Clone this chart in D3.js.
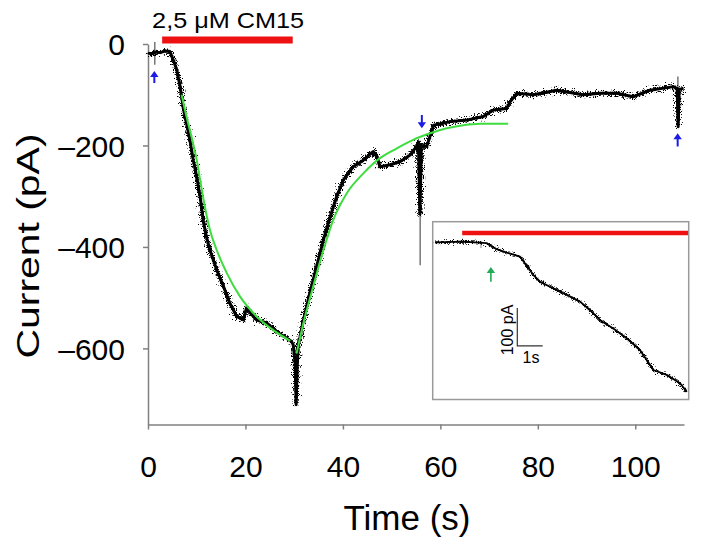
<!DOCTYPE html>
<html><head><meta charset="utf-8">
<script src="https://cdn.jsdelivr.net/npm/d3@7"></script>
<style>
body{margin:0;background:#fff}
svg{display:block}
text{font-family:"Liberation Sans",Arial,Helvetica,sans-serif;fill:#000}
</style>
</head><body>
<svg id="chart" width="702" height="547"></svg>
<script>
// ---------- data ----------
const xTicks = [0, 20, 40, 60, 80, 100];
const yTicks = [0, -200, -400, -600];
const xLabel = "Time (s)";
const yLabel = "Current (pA)";

// main current trace (s, pA)
const traceT = [0.0,0.8,1.5,2.5,3.5,4.5,5.2,5.9,6.6,7.2,7.9,8.6,9.3,10.0,10.7,11.4,12.0,12.7,14.1,15.5,16.8,18.2,19.6,20.2,21.0,22.3,24.4,26.4,28.5,29.5,29.8,30.2,30.4,30.6,30.8,31.9,33.2,34.6,36.0,37.4,38.7,40.1,42.1,44.2,46.2,46.9,47.6,49.7,51.7,53.8,55.1,55.5,55.8,56.1,57.2,58.6,62.0,65.4,68.8,70.9,73.6,74.3,75.7,79.1,83.9,89.3,92.8,96.2,99.6,103.0,107.8,108.6,108.8,109.0,109.9];
const traceI = [-18,-19,-16,-17,-14,-15,-32,-51,-84,-124,-156,-189,-229,-262,-301,-352,-380,-406,-445,-478,-511,-537,-544,-520,-530,-544,-550,-567,-580,-587,-593,-629,-711,-642,-597,-544,-491,-439,-386,-340,-301,-268,-242,-229,-212,-219,-242,-238,-232,-219,-202,-193,-335,-200,-202,-160,-153,-150,-143,-130,-127,-114,-97,-100,-91,-100,-97,-97,-104,-91,-84,-88,-163,-90,-87];

// exponential fits (green)
const fitDecayT = [6.9,7.9,8.6,10.0,10.7,11.4,12.7,14.1,16.2,18.9,22.3,25.7,29.2];
const fitDecayI = [-100,-143,-170,-229,-268,-307,-366,-406,-452,-498,-537,-564,-585];
const fitRecT = [30.5,31.9,33.9,36.0,38.0,40.8,44.2,47.6,51.0,54.4,57.9,61.3,64.7,68.1,73.9];
const fitRecI = [-610,-550,-478,-406,-347,-294,-255,-225,-206,-189,-176,-166,-160,-157,-157];

// thin artifacts (s, top pA, bottom pA)
const artifactT = [1.4, 55.85, 108.75];
const artifactTop = [4, -330, -64];
const artifactBottom = [-41, -436, -165];

// blue arrows (s, tail pA, tip pA)
const arrowT = [1.3, 56.2, 108.7];
const arrowTail = [-77, -140, -202];
const arrowTip = [-53, -166, -176];

// drug application bar
const drugLabel = "2,5 \u03BCM CM15";
const drugStart = 2.9, drugEnd = 29.7, drugLevel = 8;

// inset trace (s, pA relative)
const insetT = [0,1.11,2.03,2.43,2.82,3.35,3.87,4.13,4.66,5.19,5.71,6.10,6.50,7.02,7.55,8.07,8.60,9.12,9.65,9.91];
const insetI = [-1,1,-3,-19,-28,-39,-87,-105,-123,-140,-158,-180,-207,-229,-255,-286,-339,-352,-374,-397];
const insetBarStart = 1.07, insetBarEnd = 9.96, insetBarLevel = 24;
const insetArrowT = 2.2, insetArrowTail = -105, insetArrowTip = -66;
const insetSpikeT = 1.81, insetSpikeTop = 3, insetSpikeBottom = -16;
const scaleBarT = 3.24, scaleBarTop = -175, scaleBarPA = 100, scaleBarS = 1;
const scaleBarPALabel = "100 pA", scaleBarSLabel = "1s";

// ---------- drawing ----------
const svg = d3.select("#chart");
svg.append("rect").attr("width",702).attr("height",547).attr("fill","#fff");

const defs = svg.append("defs");
function noiseFilter(id, freq, scale, seed){
  const f = defs.append("filter").attr("id",id).attr("filterUnits","userSpaceOnUse")
    .attr("x",0).attr("y",0).attr("width",702).attr("height",547);
  f.append("feTurbulence").attr("type","fractalNoise").attr("baseFrequency",freq).attr("numOctaves",1).attr("seed",seed).attr("result","t");
  f.append("feDisplacementMap").attr("in","SourceGraphic").attr("in2","t").attr("scale",scale).attr("xChannelSelector","R").attr("yChannelSelector","G");
}
noiseFilter("noise", "0.9", 16, 4);
noiseFilter("noise2", "1.1", 10, 7);

const x = d3.scaleLinear().domain([0,110]).range([148,684]);
const y = d3.scaleLinear().domain([-750,0]).range([424.5,44]);

const axisColor = "#808080";
const gx = svg.append("g").attr("transform",`translate(0,${y(-750)})`)
  .call(d3.axisBottom(x).tickValues(xTicks).tickSize(5).tickSizeOuter(0).tickPadding(26));
const gy = svg.append("g").attr("transform",`translate(${x(0)},0)`)
  .call(d3.axisLeft(y).tickValues(yTicks).tickSize(5).tickSizeOuter(0).tickPadding(18)
    .tickFormat(d => d < 0 ? "\u2013" + Math.abs(d) : String(d)));
[gx,gy].forEach(g=>{
  g.select(".domain").attr("stroke",axisColor).attr("stroke-width",1.5);
  g.selectAll(".tick line").attr("stroke",axisColor).attr("stroke-width",1.5);
  g.selectAll(".tick text").attr("font-size",30).attr("fill","#000")
    .style("font-family",'"Liberation Sans",Arial,sans-serif');
});
gy.selectAll(".tick text").attr("dy","0.36em");

svg.append("text").attr("x",407).attr("y",530).attr("text-anchor","middle")
  .attr("font-size",35).text(xLabel);
svg.append("text").attr("transform","translate(39,246) rotate(-90)").attr("text-anchor","middle")
  .attr("font-size",31).attr("textLength",225).attr("lengthAdjust","spacingAndGlyphs").text(yLabel);

// drug bar + label
svg.append("line").attr("x1",x(drugStart)).attr("x2",x(drugEnd)).attr("y1",y(drugLevel)).attr("y2",y(drugLevel))
  .attr("stroke","#ee1111").attr("stroke-width",7);
svg.append("text").attr("x",x(drugStart)-10).attr("y",28).attr("font-size",22.5)
  .attr("textLength",152).attr("lengthAdjust","spacingAndGlyphs").text(drugLabel);

// thin artifacts
artifactT.forEach((t,i)=>{
  svg.append("line").attr("x1",x(t)).attr("x2",x(t)).attr("y1",y(artifactTop[i])).attr("y2",y(artifactBottom[i]))
    .attr("stroke","#555").attr("stroke-width",1.2);
});

// main trace: solid core + jagged overlay
const traceData = traceT.map((t,i)=>[t,traceI[i]]);
const mainLine = d3.line().x(d=>x(d[0])).y(d=>y(d[1]));
svg.append("path").datum(traceData).attr("d", mainLine)
  .attr("fill","none").attr("stroke","#000").attr("stroke-width",3).attr("stroke-linejoin","round");
svg.append("path").datum(traceData).attr("d", mainLine)
  .attr("fill","none").attr("stroke","#000").attr("stroke-width",3).attr("stroke-linejoin","round")
  .attr("filter","url(#noise)");

// fits
[[fitDecayT,fitDecayI],[fitRecT,fitRecI]].forEach(([T,I])=>{
  svg.append("path").datum(T.map((t,i)=>[t,I[i]]))
    .attr("d", d3.line().curve(d3.curveMonotoneX).x(d=>x(d[0])).y(d=>y(d[1])))
    .attr("fill","none").attr("stroke","#3fdc3f").attr("stroke-width",2);
});

function arrow(g, px, yTail, yTip, color, w, head){
  const dir = yTip < yTail ? -1 : 1;
  g.append("line").attr("x1",px).attr("x2",px).attr("y1",yTail).attr("y2",yTip - dir*head*0.8)
    .attr("stroke",color).attr("stroke-width",w);
  g.append("path").attr("d",`M${px},${yTip} L${px-head*0.7},${yTip-dir*head} L${px+head*0.7},${yTip-dir*head} Z`)
    .attr("fill",color);
}
arrowT.forEach((t,i)=> arrow(svg, x(t), y(arrowTail[i]), y(arrowTip[i]), "#1c1ce6", 2, 6));

// ---------- inset ----------
const ix = d3.scaleLinear().domain([0,10]).range([435,689]);
const iy = d3.scaleLinear().domain([-400,0]).range([393,242]);
svg.append("rect").attr("x",432.7).attr("y",221.7).attr("width",256).attr("height",177.8)
  .attr("fill","#fff").attr("stroke","#999").attr("stroke-width",1.5);
svg.append("line").attr("x1",ix(insetBarStart)).attr("x2",ix(insetBarEnd)).attr("y1",iy(insetBarLevel)).attr("y2",iy(insetBarLevel))
  .attr("stroke","#ee1111").attr("stroke-width",4.5);
svg.append("line").attr("x1",ix(insetSpikeT)).attr("x2",ix(insetSpikeT)).attr("y1",iy(insetSpikeTop)).attr("y2",iy(insetSpikeBottom))
  .attr("stroke","#888").attr("stroke-width",1);
const insetData = insetT.map((t,i)=>[t,insetI[i]]);
const insetLine = d3.line().x(d=>ix(d[0])).y(d=>iy(d[1]));
svg.append("path").datum(insetData).attr("d", insetLine)
  .attr("fill","none").attr("stroke","#000").attr("stroke-width",1.8).attr("stroke-linejoin","round");
svg.append("path").datum(insetData).attr("d", insetLine)
  .attr("fill","none").attr("stroke","#000").attr("stroke-width",1.8).attr("stroke-linejoin","round")
  .attr("filter","url(#noise2)");
arrow(svg, ix(insetArrowT), iy(insetArrowTail), iy(insetArrowTip), "#22aa55", 1.6, 6);

// scale bar
const sbx = ix(scaleBarT), sbTop = iy(scaleBarTop), sbBot = iy(scaleBarTop - scaleBarPA), sbRight = ix(scaleBarT + scaleBarS);
svg.append("path").attr("d",`M${sbx},${sbTop} L${sbx},${sbBot} L${sbRight},${sbBot}`)
  .attr("fill","none").attr("stroke","#333").attr("stroke-width",1.2);
svg.append("text").attr("transform",`translate(${sbx-4},${(sbTop+sbBot)/2+3}) rotate(-90)`)
  .attr("text-anchor","middle").attr("font-size",16).text(scaleBarPALabel);
svg.append("text").attr("x",(sbx+sbRight)/2+1).attr("y",sbBot+17).attr("text-anchor","middle")
  .attr("font-size",16).text(scaleBarSLabel);
</script>
</body></html>
